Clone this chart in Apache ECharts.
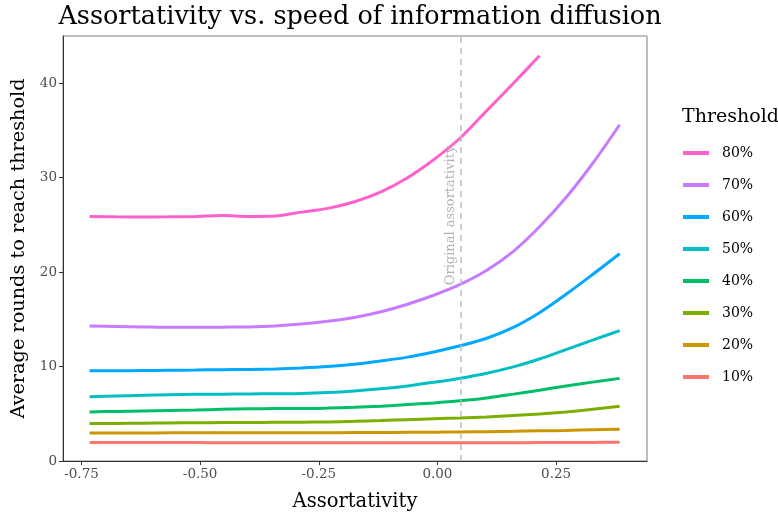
<!DOCTYPE html>
<html>
<head>
    <meta charset="utf-8">
    <title>Assortativity vs. speed of information diffusion</title>
    <script src="https://cdn.jsdelivr.net/npm/echarts@6/dist/echarts.min.js"></script>
    <style>
        html, body { margin: 0; padding: 0; background: #fff; }
        #main { width: 778px; height: 519px; }
    </style>
</head>
<body>
<div id="main"></div>
<script>
    // values (evenly spaced assortativity grid)
    var assortativity = [-0.733, -0.677, -0.621, -0.566, -0.510, -0.454, -0.398, -0.342, -0.287, -0.231, -0.175,
        -0.119, -0.063, -0.008, 0.048, 0.104, 0.160, 0.215, 0.271, 0.327, 0.384];
    var t80 = [25.9, 25.85, 25.83, 25.85, 25.9, 26.0, 25.9, 25.95, 26.35, 26.75, 27.45, 28.5, 30.0, 31.9, 34.2, 37.1, 40.0, 42.9];
    var t70 = [14.3, 14.25, 14.2, 14.15, 14.15, 14.17, 14.2, 14.3, 14.5, 14.8, 15.2, 15.8, 16.6, 17.55, 18.7, 20.2, 22.2, 24.8, 27.9, 31.5, 35.6];
    var t60 = [9.55, 9.55, 9.57, 9.6, 9.63, 9.67, 9.7, 9.75, 9.85, 10.0, 10.25, 10.6, 11.0, 11.55, 12.2, 13.0, 14.15, 15.7, 17.65, 19.75, 21.95];
    var t50 = [6.8, 6.88, 6.95, 7.02, 7.06, 7.08, 7.1, 7.12, 7.15, 7.25, 7.42, 7.65, 7.95, 8.33, 8.77, 9.3, 9.97, 10.8, 11.8, 12.8, 13.8];
    var t40 = [5.2, 5.25, 5.3, 5.35, 5.4, 5.47, 5.53, 5.55, 5.55, 5.6, 5.68, 5.8, 5.97, 6.15, 6.38, 6.68, 7.08, 7.5, 7.95, 8.35, 8.75];
    var t30 = [3.96, 3.98, 4.0, 4.03, 4.05, 4.07, 4.08, 4.09, 4.1, 4.14, 4.2, 4.28, 4.38, 4.48, 4.56, 4.67, 4.82, 4.98, 5.2, 5.47, 5.8];
    var t20 = [2.97, 2.97, 2.97, 2.98, 2.98, 2.98, 2.99, 2.99, 3.0, 3.0, 3.01, 3.02, 3.04, 3.05, 3.07, 3.1, 3.14, 3.19, 3.24, 3.3, 3.36];
    var t10 = [1.95, 1.95, 1.95, 1.95, 1.95, 1.94, 1.94, 1.94, 1.93, 1.93, 1.92, 1.92, 1.92, 1.92, 1.93, 1.93, 1.94, 1.95, 1.96, 1.97, 1.98];

    var thresholds = ['10%', '20%', '30%', '40%', '50%', '60%', '70%', '80%'];
    var values = [t10, t20, t30, t40, t50, t60, t70, t80];
    var colors = ['#F8766D', '#CD9600', '#7CAE00', '#00BE67', '#00BFC4', '#00A9FF', '#C77CFF', '#FF61CC'];

    var xTicks = [-0.75, -0.5, -0.25, 0, 0.25];
    var yTicks = [0, 10, 20, 30, 40];
    var originalAssortativity = 0.052;

    var font = 'DejaVu Serif';

    var series = [];
    for (var i = 0; i < thresholds.length; i++) {
        var pts = [];
        for (var j = 0; j < values[i].length; j++) {
            pts.push([assortativity[j], values[i][j]]);
        }
        series.push({
            name: thresholds[i],
            type: 'line',
            data: pts,
            smooth: 0.3,
            showSymbol: false,
            symbol: 'none',
            lineStyle: {width: 3, color: colors[i]},
            itemStyle: {color: colors[i]},
            z: 3
        });
    }
    // dashed line at the original assortativity
    series.push({
        type: 'line',
        data: [],
        markLine: {
            silent: true,
            symbol: 'none',
            label: {show: false},
            lineStyle: {color: '#bdbdbd', type: [6, 5], width: 1.5},
            data: [{xAxis: originalAssortativity}]
        },
        z: 2
    });

    var chart = echarts.init(document.getElementById('main'));
    var option = {
        animation: false,
        color: colors,
        title: [{
            text: 'Assortativity vs. speed of information diffusion',
            left: 355, top: -1, textAlign: 'center',
            textStyle: {fontFamily: font, fontWeight: 'normal', fontSize: 25.5, color: '#000'}
        }, {
            text: 'Threshold',
            left: 677, top: 103,
            textStyle: {fontFamily: font, fontWeight: 'normal', fontSize: 19, color: '#000'}
        }],
        legend: {
            orient: 'vertical',
            left: 678, top: 141,
            data: thresholds.slice().reverse(),
            icon: 'rect',
            itemWidth: 26, itemHeight: 4,
            itemGap: 18,
            textStyle: {fontFamily: font, fontSize: 14, color: '#000', padding: [0, 0, 0, 8]}
        },
        grid: {left: 63, right: 131, top: 36, bottom: 58, show: true, borderColor: '#7f7f7f', borderWidth: 1},
        xAxis: {
            type: 'value',
            min: -0.789, max: 0.4416,
            name: 'Assortativity',
            nameLocation: 'middle', nameGap: 31,
            nameTextStyle: {fontFamily: font, fontSize: 19.5, color: '#000'},
            axisLine: {onZero: false, lineStyle: {color: '#333'}},
            axisTick: {show: true, length: 4, customValues: xTicks, lineStyle: {color: '#333'}},
            axisLabel: {
                customValues: xTicks, margin: 6,
                fontFamily: font, fontSize: 13.5, color: '#4d4d4d',
                formatter: function (v) { return v.toFixed(2); }
            },
            splitLine: {show: false}
        },
        yAxis: {
            type: 'value',
            min: 0, max: 45,
            name: 'Average rounds to reach threshold',
            nameLocation: 'middle', nameGap: 30, nameRotate: 90,
            nameTextStyle: {fontFamily: font, fontSize: 19.3, color: '#000'},
            axisLine: {show: true, onZero: false, lineStyle: {color: '#333'}},
            axisTick: {show: true, length: 4, customValues: yTicks, lineStyle: {color: '#333'}},
            axisLabel: {customValues: yTicks, margin: 6, fontFamily: font, fontSize: 13.5, color: '#4d4d4d'},
            splitLine: {show: false}
        },
        series: series
    };
    chart.setOption(option);

    // rotated label next to the dashed line
    var p = chart.convertToPixel({gridIndex: 0}, [originalAssortativity, 26]);
    chart.setOption({
        graphic: [{
            type: 'text',
            x: p[0] - 11, y: p[1],
            rotation: Math.PI / 2,
            style: {
                text: 'Original assortativity',
                fontFamily: font, fontSize: 13, fill: '#b3b3b3',
                align: 'center', verticalAlign: 'middle'
            },
            z: 10
        }]
    });
</script>
</body>
</html>
